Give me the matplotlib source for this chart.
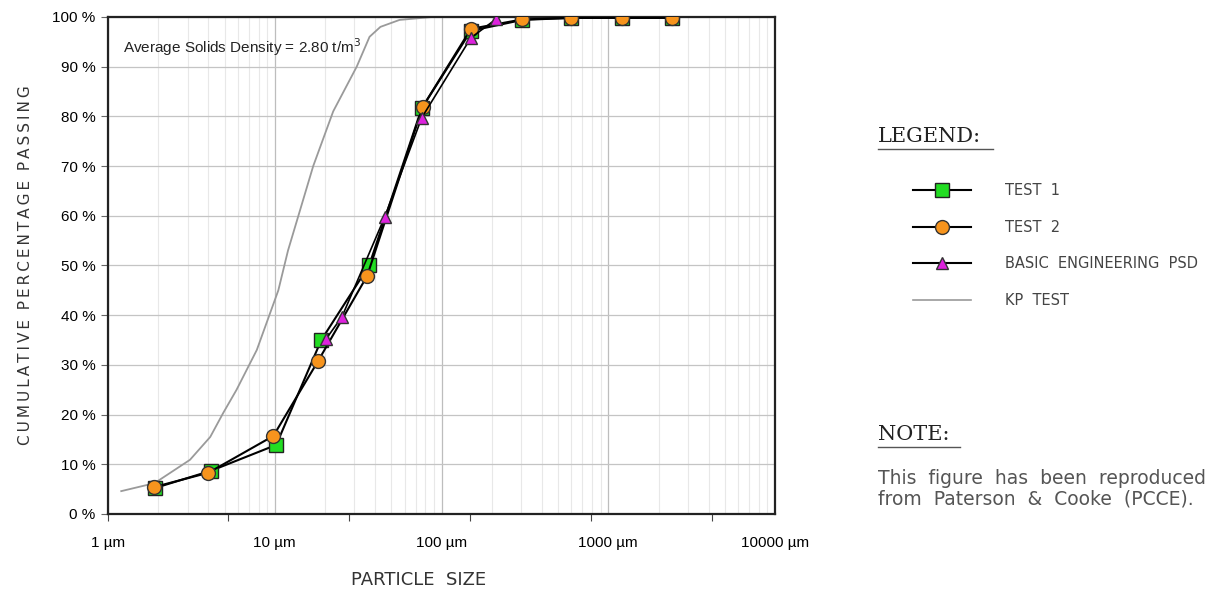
import numpy as np
import matplotlib.pyplot as plt
from matplotlib.lines import Line2D
from matplotlib.ticker import FixedLocator, LogLocator, NullFormatter

# particle size (um) and cumulative % passing
test1_x = [1.9, 4.15, 10.2, 19, 36.8, 76, 150, 305, 600, 1200, 2400]
test1_y = [5.2, 8.7, 13.9, 35, 50, 81.6, 97.2, 99.4, 99.8, 99.8, 99.8]

test2_x = [1.88, 4.0, 9.8, 18.2, 35.8, 77, 150, 305, 600, 1200, 2400]
test2_y = [5.4, 8.3, 15.7, 30.8, 47.9, 81.9, 97.6, 99.5, 99.8, 99.8, 99.8]

basic_x = [20.3, 25.3, 45.7, 76, 150, 213]
basic_y = [35.2, 39.7, 59.8, 79.7, 95.8, 99.6]

kp_x = [1.2, 1.9, 3.1, 4.1, 4.9, 5.9, 7.8, 10.5, 12, 17, 22.4, 31, 37, 43, 56, 89, 300]
kp_y = [4.6, 6.2, 10.9, 15.5, 20.3, 25, 33, 45, 53, 70, 81, 90, 96, 98, 99.4, 100, 100]

decades = [1, 10, 100, 1000, 10000]
decade_labels = ["1 µm", "10 µm", "100 µm", "1000 µm", "10000 µm"]
pct_ticks = list(range(0, 101, 10))
tick_marks = [1, 5.25, 27.9, 148, 790, 4200]

fig = plt.figure(figsize=(12.25, 5.96), dpi=100)
ax = fig.add_axes([0.0882, 0.1376, 0.5445, 0.834])

ax.plot(kp_x, kp_y, color="#9a9a9a", lw=1.3, zorder=2)
ax.plot(test1_x, test1_y, color="black", lw=1.5, marker="s", ms=10,
        mfc="#22dd22", mec="#222222", mew=1, zorder=3)
ax.plot(test2_x, test2_y, color="black", lw=1.5, marker="o", ms=10,
        mfc="#f7941d", mec="#333333", mew=1, zorder=4)
ax.plot(basic_x, basic_y, color="black", lw=1.2, marker="^", ms=8,
        mfc="#dd22dd", mec="#333333", mew=1, zorder=5)

ax.set_xscale("log")
ax.set_xlim(1, 10000)
ax.set_ylim(0, 100)

ax.xaxis.set_major_locator(FixedLocator(decades))
ax.set_xticklabels(decade_labels, family="Liberation Sans")
ax.xaxis.set_minor_locator(LogLocator(base=10, subs=np.arange(2, 10)))
ax.xaxis.set_minor_formatter(NullFormatter())
ax.tick_params(axis="x", which="both", length=0, labelsize=11, pad=16)

ax.set_yticks(pct_ticks)
ax.set_yticklabels([f"{p} %" for p in pct_ticks], family="Liberation Sans")
ax.tick_params(axis="y", length=5, color="#666666", labelsize=11, pad=4)

ax.grid(which="major", axis="x", color="#bdbdbd", lw=0.9)
ax.grid(which="minor", axis="x", color="#e8e8e8", lw=0.8)
ax.grid(which="major", axis="y", color="#c4c4c4", lw=0.9)
ax.set_axisbelow(True)

for s in ax.spines.values():
    s.set_linewidth(1.6)
    s.set_color("#222222")

sec = ax.secondary_xaxis("bottom")
sec.set_xticks(tick_marks)
sec.set_xticklabels([""] * len(tick_marks))
sec.xaxis.set_minor_locator(FixedLocator([]))
sec.tick_params(length=5, color="#444444")
sec.spines["bottom"].set_visible(False)

ax.set_xlabel("PARTICLE  SIZE", fontsize=13, color="#333333")
ax.xaxis.set_label_coords(0.466, -0.115)
ax.set_ylabel("C U M U L A T I V E   P E R C E N T A G E   P A S S I N G".replace(" ", "\u2009").replace("\u2009\u2009\u2009", "  "),
              fontsize=11, color="#333333", labelpad=14)

ax.text(0.022, 0.94, "Average Solids Density = 2.80 t/m$^3$", transform=ax.transAxes,
        fontsize=11, family="Liberation Sans", color="#222222", va="center")

# legend and note on the right
fig.text(878 / 1225, 1 - 137 / 596, "LEGEND:", family="DejaVu Serif",
         fontsize=15, color="#222222", va="center")
fig.add_artist(Line2D([878 / 1225, 993 / 1225], [1 - 149 / 596] * 2, color="#555555", lw=1))

handles = [
    Line2D([], [], color="black", lw=1.5, marker="s", ms=10, mfc="#22dd22", mec="#222222"),
    Line2D([], [], color="black", lw=1.5, marker="o", ms=10, mfc="#f7941d", mec="#333333"),
    Line2D([], [], color="black", lw=1.5, marker="^", ms=9, mfc="#dd22dd", mec="#333333"),
    Line2D([], [], color="#9a9a9a", lw=1.2),
]
labels = ["TEST  1", "TEST  2", "BASIC  ENGINEERING  PSD", "KP  TEST"]
fig.legend(handles, labels, loc="upper left", bbox_to_anchor=(900 / 1225, 1 - 170 / 596),
           frameon=False, fontsize=10.5, handlelength=4.0, handletextpad=2.3,
           labelspacing=1.48, labelcolor="#444444")

fig.text(878 / 1225, 1 - 435 / 596, "NOTE:", family="DejaVu Serif",
         fontsize=15, color="#222222", va="center")
fig.add_artist(Line2D([878 / 1225, 960 / 1225], [1 - 447 / 596] * 2, color="#555555", lw=1))
fig.text(878 / 1225, 1 - 489 / 596, "This  figure  has  been  reproduced\nfrom  Paterson  &  Cooke  (PCCE).",
         fontsize=13.5, family="DejaVu Sans", color="#555555", va="center", linespacing=1.1)

fig.savefig("out.png", dpi=100)
